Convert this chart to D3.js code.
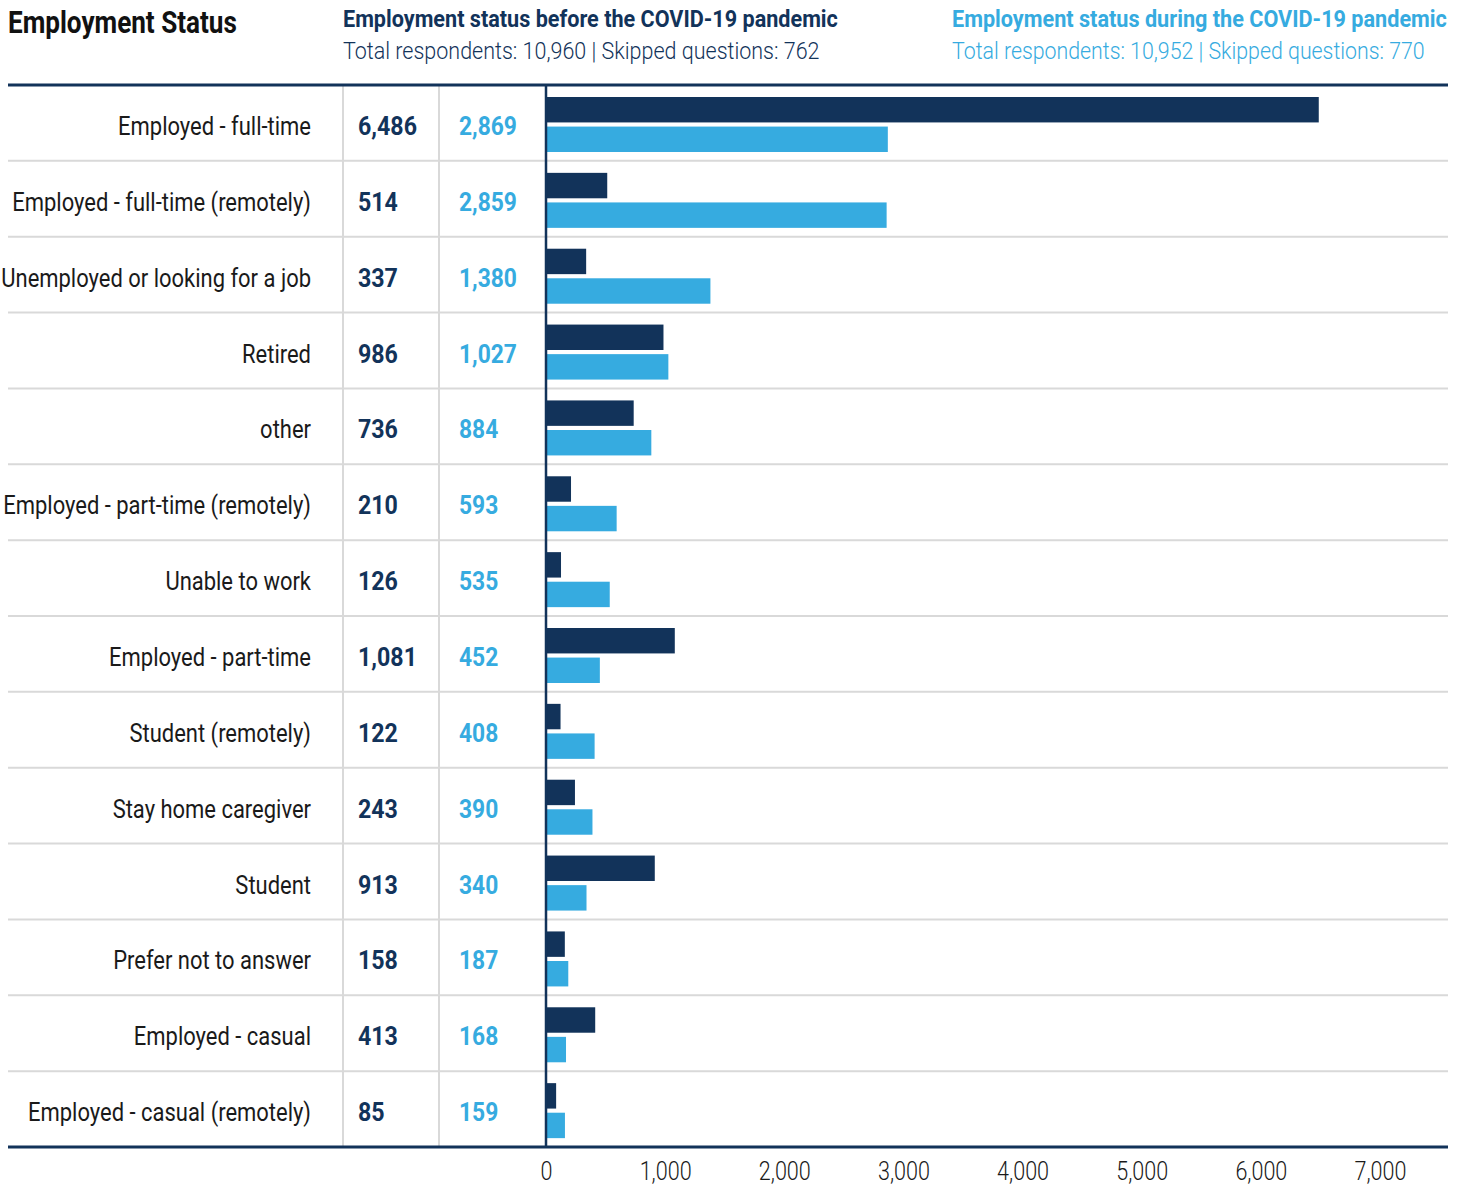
<!DOCTYPE html>
<html>
<head>
<meta charset="utf-8">
<script src="https://cdn.jsdelivr.net/npm/d3@7"></script>
<style>
  html, body { margin: 0; padding: 0; background: #fff; }
  svg { display: block; }
  text { font-family: "Roboto", "Noto Sans", sans-serif; }
</style>
</head>
<body>
<svg id="chart" width="1466" height="1188"></svg>
<script>
const categories = [
  "Employed - full-time",
  "Employed - full-time (remotely)",
  "Unemployed or looking for a job",
  "Retired",
  "other",
  "Employed - part-time (remotely)",
  "Unable to work",
  "Employed - part-time",
  "Student (remotely)",
  "Stay home caregiver",
  "Student",
  "Prefer not to answer",
  "Employed - casual",
  "Employed - casual (remotely)"
];
const beforeValues = [6486, 514, 337, 986, 736, 210, 126, 1081, 122, 243, 913, 158, 413, 85];
const duringValues = [2869, 2859, 1380, 1027, 884, 593, 535, 452, 408, 390, 340, 187, 168, 159];
const tickValues = [0, 1000, 2000, 3000, 4000, 5000, 6000, 7000];
const seriesNames = ["before", "during"];

const NAVY = "#12335a";
const BLUE = "#36abe0";
const GRID = "#d9d9d9";
const INK = "#1a1a1a";

const svg = d3.select("#chart");

const x = d3.scaleLinear().domain([0, 7000]).range([546, 1380]);
const y = d3.scaleBand().domain(categories).range([85, 1147]).paddingInner(0).paddingOuter(0);
const ySub = d3.scaleBand().domain(seriesNames).range([12, 67]).paddingInner(0.14);

// place text with horizontal compression (condensed look)
function place(sel, k) {
  sel.each(function () {
    const t = d3.select(this);
    const px = +t.attr("data-x"), py = +t.attr("data-y");
    t.attr("x", 0).attr("y", 0).attr("transform", `translate(${px},${py}) scale(${k},1)`);
  });
}
function fitK(sel, targetWidth) {
  const w = sel.node().getComputedTextLength();
  return targetWidth / w;
}
function addText(parent, px, py, str, opts) {
  const t = parent.append("text").attr("data-x", px).attr("data-y", py).text(str);
  Object.entries(opts || {}).forEach(([k, v]) => t.attr(k, v));
  return t;
}

// Titles
const title = addText(svg, 8, 33, "Employment Status",
  { "font-size": 31, "font-weight": 700, fill: "#111" });
place(title, fitK(title, 229));

const h1 = addText(svg, 343, 27, "Employment status before the COVID-19 pandemic",
  { "font-size": 24, "font-weight": 700, fill: NAVY });
place(h1, fitK(h1, 495));
const s1 = addText(svg, 343, 59, "Total respondents: 10,960 | Skipped questions: 762",
  { "font-size": 24, "font-weight": 300, fill: NAVY });
place(s1, fitK(s1, 477));

const h2 = addText(svg, 952, 27, "Employment status during the COVID-19 pandemic",
  { "font-size": 24, "font-weight": 700, fill: BLUE });
place(h2, fitK(h2, 495));
const s2 = addText(svg, 952, 59, "Total respondents: 10,952 | Skipped questions: 770",
  { "font-size": 24, "font-weight": 300, fill: BLUE });
place(s2, fitK(s2, 473));

// Row separators
svg.append("g").selectAll("line").data(categories.slice(1)).join("line")
  .attr("x1", 8).attr("x2", 1448)
  .attr("y1", d => y(d)).attr("y2", d => y(d))
  .attr("stroke", GRID).attr("stroke-width", 2);

// Column separators
[343, 439].forEach(cx => {
  svg.append("line").attr("x1", cx).attr("x2", cx).attr("y1", 85).attr("y2", 1147)
    .attr("stroke", GRID).attr("stroke-width", 2);
});

// Bars
const g = svg.append("g");
categories.forEach((c, i) => {
  const vals = [beforeValues[i], duringValues[i]];
  g.selectAll(null).data(seriesNames.map((s, j) => ({ s, v: vals[j], c })))
    .enter().append("rect")
    .attr("x", x(0))
    .attr("y", d => y(d.c) + ySub(d.s))
    .attr("width", d => x(d.v) - x(0))
    .attr("height", ySub.bandwidth())
    .attr("fill", d => d.s === "before" ? NAVY : BLUE);
});

// Labels and values
const fmt = d3.format(",");
const rowY = c => y(c) + y.bandwidth() / 2 + 12;
const lab = svg.append("g");
const cats = lab.selectAll("text.cat").data(categories).join("text")
  .attr("class", "cat")
  .attr("data-x", 311).attr("data-y", d => rowY(d))
  .attr("text-anchor", "end").attr("font-size", 25).attr("font-weight", 400).attr("fill", INK)
  .text(d => d);
place(cats, fitK(cats.filter((d, i) => i === 1), 299));

const bvs = lab.selectAll("text.bv").data(beforeValues).join("text")
  .attr("class", "bv")
  .attr("data-x", 358).attr("data-y", (d, i) => rowY(categories[i]))
  .attr("font-size", 25).attr("font-weight", 700).attr("fill", NAVY)
  .text(d => fmt(d));
place(bvs, fitK(bvs, 59));

const dvs = lab.selectAll("text.dv").data(duringValues).join("text")
  .attr("class", "dv")
  .attr("data-x", 459).attr("data-y", (d, i) => rowY(categories[i]))
  .attr("font-size", 25).attr("font-weight", 700).attr("fill", BLUE)
  .text(d => fmt(d));
place(dvs, fitK(dvs, 58));

// Zero line and frame lines
svg.append("line").attr("x1", x(0)).attr("x2", x(0)).attr("y1", 85).attr("y2", 1147)
  .attr("stroke", NAVY).attr("stroke-width", 2.5);
svg.append("line").attr("x1", 8).attr("x2", 1448).attr("y1", 85).attr("y2", 85)
  .attr("stroke", NAVY).attr("stroke-width", 3);
svg.append("line").attr("x1", 8).attr("x2", 1448).attr("y1", 1147).attr("y2", 1147)
  .attr("stroke", NAVY).attr("stroke-width", 3);

// X axis
const axis = svg.append("g").attr("transform", "translate(0,1150)")
  .call(d3.axisBottom(x).tickValues(tickValues).tickSize(0).tickPadding(12).tickFormat(fmt));
axis.select(".domain").remove();
const ticks = axis.selectAll("text").attr("font-size", 25).attr("font-weight", 300).attr("fill", INK)
  .attr("font-family", "Roboto, sans-serif");
const tk = fitK(ticks.filter((d, i) => i === 1), 52);
ticks.attr("transform", `scale(${tk},1)`).attr("x", 0);
</script>
</body>
</html>
